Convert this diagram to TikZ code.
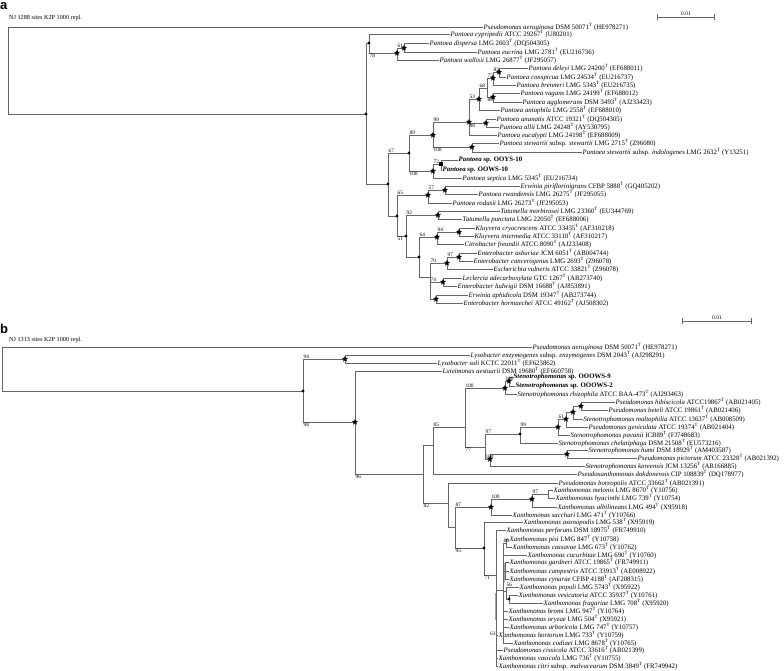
\documentclass[tikz,border=0pt]{standalone}
\usepackage{fontspec}
\setmainfont{Liberation Serif}
\newfontfamily\panelfont{Liberation Sans}
\usetikzlibrary{shapes.geometric}
\newcommand{\typ}{\textsuperscript{T}}

\begin{document}
\begin{tikzpicture}[x=1pt, y=-1pt,
    br/.style={draw=black!60, line width=0.7pt},
    ovl/.style={draw=black!35, line width=1.6pt},
    leaf/.style={anchor=west, inner xsep=0.5pt, inner ysep=0pt, font=\fontsize{6.8}{7}\selectfont},
    ours/.style={leaf, font=\fontsize{6.8}{7}\selectfont\bfseries},
    bsup/.style={pos=0.5, anchor=south west, inner sep=0.4pt, font=\fontsize{5.3}{5.3}\selectfont},
    bsdn/.style={pos=0.5, anchor=north west, inner sep=0.4pt, font=\fontsize{5.3}{5.3}\selectfont},
    dotn/.style={circle, fill=black, inner sep=0pt, minimum size=3.4pt},
    starn/.style={star, star points=5, star point ratio=2.3, fill=black, inner sep=0pt, minimum size=6.4pt},
    sqn/.style={rectangle, fill=black, inner sep=0pt, minimum size=4.2pt},
    panel/.style={anchor=base west, inner sep=0pt, font=\panelfont\bfseries\fontsize{13}{13}\selectfont},
    hdr/.style={anchor=west, inner sep=0pt, font=\fontsize{6.2}{7}\selectfont},
    scl/.style={above, inner sep=0.8pt, font=\fontsize{5.5}{6}\selectfont}
  ]
\useasboundingbox (0,0) rectangle (784,671);

% ---------------- panel a ----------------
\node[panel] (pa) at (0,9.5) {a};
\node[hdr] (ha) at (9,18) {NJ 1288 sites K2P 1000 repl.};
\coordinate (sa0) at (657,17);
\coordinate (sa1) at (715,17);
\draw[br, |-|] (sa0) -- node[scl] {0.01} (sa1);

\coordinate (ra) at (8,70);
\coordinate (a1) at (366,114);
\coordinate (a2) at (369,43);
\coordinate (a3) at (397,53);
\coordinate (a4) at (404,48);
\coordinate (a5) at (388,184);
\coordinate (a6) at (409,153);
\coordinate (a7) at (433,135);
\coordinate (a8) at (469,122);
\coordinate (a9) at (479,99);
\coordinate (a10) at (487,88);
\coordinate (a11) at (493,78);
\coordinate (a12) at (499,72);
\coordinate (a13) at (493,97);
\coordinate (a14) at (486,123);
\coordinate (a15) at (472,147);
\coordinate (a16) at (433,171);
\coordinate (a17) at (441,164);
\coordinate (a18) at (397,216);
\coordinate (a19) at (428,195);
\coordinate (a20) at (445,190);
\coordinate (a21) at (406,236);
\coordinate (a22) at (438,215);
\coordinate (a23) at (419,257);
\coordinate (a24) at (437,237);
\coordinate (a25) at (459,232);
\coordinate (a26) at (430,277);
\coordinate (a27) at (447,263);
\coordinate (a28) at (459,257);
\coordinate (a29) at (443,282);
\coordinate (a30) at (436,299);

\node[leaf] (paeA) at (483,27) {\textit{Pseudomonas aeruginosa} DSM 50071\typ{} (HE978271)};
\node[leaf] (cyp) at (450,34) {\textit{Pantoea cypripedii} ATCC 29267\typ{} (U80201)};
\node[leaf] (dis) at (429,43) {\textit{Pantoea dispersa} LMG 2603\typ{} (DQ504305)};
\node[leaf] (eucr) at (477,52) {\textit{Pantoea eucrina} LMG 2781\typ{} (EU216736)};
\node[leaf] (wal) at (439,60) {\textit{Pantoea wallisii} LMG 26877\typ{} (JF295057)};
\node[leaf] (del) at (528,68) {\textit{Pantoea deleyi} LMG 24200\typ{} (EF688011)};
\node[leaf] (con) at (506,77) {\textit{Pantoea conspicua} LMG 24534\typ{} (EU216737)};
\node[leaf] (bre) at (516,85) {\textit{Pantoea brenneri} LMG 5343\typ{} (EU216735)};
\node[leaf] (vag) at (520,93) {\textit{Pantoea vagans} LMG 24199\typ{} (EF688012)};
\node[leaf] (agg) at (522,102) {\textit{Pantoea agglomerans} DSM 3493\typ{} (AJ233423)};
\node[leaf] (ant) at (500,110) {\textit{Pantoea antophila} LMG 2558\typ{} (EF688010)};
\node[leaf] (anan) at (496,119) {\textit{Pantoea ananatis} ATCC 19321\typ{} (DQ504305)};
\node[leaf] (all) at (499,127) {\textit{Pantoea allii} LMG 24248\typ{} (AY530795)};
\node[leaf] (euca) at (497,135) {\textit{Pantoea eucalypti} LMG 24198\typ{} (EF688009)};
\node[leaf] (sst) at (499,143) {\textit{Pantoea stewartii} subsp. \textit{stewartii} LMG 2715\typ{} (Z96080)};
\node[leaf] (sin) at (582,152) {\textit{Pantoea stewartii} subsp. \textit{indologenes} LMG 2632\typ{} (Y13251)};
\node[ours] (ooy) at (458,160) {\textit{Pantoea} sp. OOYS-10};
\node[ours] (oow) at (442,170) {\textit{Pantoea} sp. OOWS-10};
\node[leaf] (sep) at (462,178) {\textit{Pantoea septica} LMG 5345\typ{} (EU216734)};
\node[leaf] (epi) at (520,186) {\textit{Erwinia piriflorinigrans} CFBP 5888\typ{} (GQ405202)};
\node[leaf] (rwa) at (478,194) {\textit{Pantoea rwandensis} LMG 26275\typ{} (JF295055)};
\node[leaf] (rod) at (452,203) {\textit{Pantoea rodasii} LMG 26273\typ{} (JF295053)};
\node[leaf] (tmo) at (500,211) {\textit{Tatumella morbirosei} LMG 23360\typ{} (EU344769)};
\node[leaf] (tpu) at (462,219) {\textit{Tatumella punctata} LMG 22050\typ{} (EF688006)};
\node[leaf] (kcr) at (475,228) {\textit{Kluyvera cryocrescens} ATCC 33435\typ{} (AF310218)};
\node[leaf] (kin) at (474,236) {\textit{Kluyvera intermedia} ATCC 33110\typ{} (AF310217)};
\node[leaf] (cfr) at (464,244) {\textit{Citrobacter freundii} ATCC 8090\typ{} (AJ233408)};
\node[leaf] (eas) at (477,253) {\textit{Enterobacter asburiae} JCM 6051\typ{} (AB004744)};
\node[leaf] (ecan) at (473,261) {\textit{Enterobacter cancerogenus} LMG 2693\typ{} (Z96078)};
\node[leaf] (evu) at (493,269) {\textit{Escherichia vulneris} ATCC 33821\typ{} (Z96078)};
\node[leaf] (lad) at (462,278) {\textit{Leclercia adecarboxylata} GTC 1267\typ{} (AB273740)};
\node[leaf] (elu) at (457,286) {\textit{Enterobacter ludwigii} DSM 16688\typ{} (AJ853891)};
\node[leaf] (eap) at (468,295) {\textit{Erwinia aphidicola} DSM 19347\typ{} (AB273744)};
\node[leaf] (eho) at (463,303) {\textit{Enterobacter hormaechei} ATCC 49162\typ{} (AJ508302)};

\foreach \p/\c in {ra/paeA, ra/a1, a1/a2, a1/a5, a2/cyp, a2/a3, a3/a4, a3/wal, a4/dis, a4/eucr,
    a5/a6, a5/a18, a6/a7, a6/a16, a7/a8, a7/a15, a8/a9, a8/a14, a8/euca, a9/a10, a9/ant,
    a10/a11, a10/a13, a11/a12, a11/bre, a12/del, a12/con, a13/vag, a13/agg, a14/anan, a14/all,
    a15/sst, a15/sin, a16/a17, a16/sep, a17/ooy, a17/oow, a18/a19, a18/a21, a19/a20, a19/rod,
    a20/epi, a20/rwa, a21/a22, a21/a23, a22/tmo, a22/tpu, a23/a24, a23/a26, a24/a25, a24/cfr,
    a25/kcr, a25/kin, a26/a27, a26/a29, a26/a30, a27/a28, a27/evu, a28/eas, a28/ecan,
    a29/lad, a29/elu, a30/eap, a30/eho}
  \draw[br] (\p) |- (\c);

\foreach \p/\c/\v in {a3/a4/61, a5/a6/67, a6/a7/89, a7/a8/99, a8/a9/53, a9/a10/68, a10/a11/75,
    a11/a12/83, a16/a17/72, a18/a19/65, a19/a20/57, a21/a22/92, a23/a24/64, a24/a25/94,
    a26/a27/70, a27/a28/97, a26/a29/74}
  \path (\p) |- node[bsup] {\v} (\c);
\foreach \p/\c/\v in {a2/a3/78, a6/a16/100, a7/a15/100, a8/a14/88, a10/a13/80, a18/a21/51}
  \path (\p) |- node[bsdn] {\v} (\c);

% ---------------- panel b ----------------
\node[panel] (pb) at (0,333) {b};
\node[hdr] (hb) at (9,340) {NJ 1313 sites K2P 1000 repl.};
\coordinate (sb0) at (682,321);
\coordinate (sb1) at (752,321);
\draw[br, |-|] (sb0) -- node[scl] {0.01} (sb1);

\coordinate (rb) at (2,368);
\coordinate (b1) at (303,391);
\coordinate (b2) at (345,359);
\coordinate (b3) at (355,422);
\coordinate (b4) at (423,474);
\coordinate (b5) at (433,445);
\coordinate (b6) at (448,503);
\coordinate (b7) at (465,427);
\coordinate (b8) at (485,447);
\coordinate (b9) at (520,434);
\coordinate (b10) at (455,527);
\coordinate (b11) at (484,548);
\coordinate (b12) at (496,575);
\coordinate (b13) at (503,590);
\coordinate (b14) at (506,543);
\coordinate (b15) at (505,571);
\coordinate (b16) at (506,591);
\coordinate (b17) at (509,599);
\coordinate (c1) at (505,388);
\coordinate (c2) at (509,381);
\coordinate (c3) at (558,427);
\coordinate (c4) at (566,419);
\coordinate (c5) at (573,412);
\coordinate (c6) at (581,406);
\coordinate (c7) at (490,459);
\coordinate (c8) at (567,454);
\coordinate (c9) at (491,507);
\coordinate (c10) at (532,499);
\coordinate (c11) at (548,494);
% overlapping short branches, drawn grey
\coordinate (g0) at (496,593);
\coordinate (g1) at (496,620);
\coordinate (g2) at (504.5,563);
\coordinate (g3) at (504.5,582);

\node[leaf] (paeB) at (532,347) {\textit{Pseudomonas aeruginosa} DSM 50071\typ{} (HE978271)};
\node[leaf] (len) at (470,355) {\textit{Lysobacter enzymogenes} subsp. \textit{enzymogenes} DSM 2043\typ{} (AJ298291)};
\node[leaf] (lso) at (437,363) {\textit{Lysobacter soli} KCTC 22011\typ{} (EF623862)};
\node[leaf] (lae) at (442,371) {\textit{Luteimonas aestuarii} DSM 19680\typ{} (EF660758)};
\node[ours] (oo9) at (513,377) {\textit{Stenotrophomonas} sp. OOOWS-9};
\node[ours] (oo2) at (515,386) {\textit{Stenotrophomonas} sp. OOOWS-2};
\node[leaf] (rhi) at (517,394) {\textit{Stenotrophomonas rhizophila} ATCC BAA-473\typ{} (AJ293463)};
\node[leaf] (hib) at (615,402) {\textit{Pseudomonas hibiscicola} ATCC19867\typ{} (AB021405)};
\node[leaf] (bet) at (608,410) {\textit{Pseudomonas beteli} ATCC 19861\typ{} (AB021406)};
\node[leaf] (mal) at (583,419) {\textit{Stenotrophomonas maltophilia} ATCC 13637\typ{} (AB008509)};
\node[leaf] (gen) at (588,427) {\textit{Pseudomonas geniculata} ATCC 19374\typ{} (AB021404)};
\node[leaf] (pav) at (570,435) {\textit{Stenotrophomonas pavanii} ICB89\typ{} (FJ748683)};
\node[leaf] (che) at (558,443) {\textit{Stenotrophomonas chelatiphaga} DSM 21508\typ{} (EU573216)};
\node[leaf] (hum) at (588,450) {\textit{Stenotrophomonas humi} DSM 18929\typ{} (AM403587)};
\node[leaf] (pic) at (637,458) {\textit{Pseudomonas pictorum} ATCC 23328\typ{} (AB021392)};
\node[leaf] (kor) at (585,466) {\textit{Stenotrophomonas koreensis} JCM 13256\typ{} (AB166885)};
\node[leaf] (pdo) at (577,474) {\textit{Pseudoxanthomonas dokdonensis} CIP 108839\typ{} (DQ178977)};
\node[leaf] (bor) at (558,483) {\textit{Pseudomonas boreopolis} ATCC 33662\typ{} (AB021391)};
\node[leaf] (mel) at (553,490) {\textit{Xanthomonas melonis} LMG 8670\typ{} (Y10756)};
\node[leaf] (hya) at (555,498) {\textit{Xanthomonas hyacinthi} LMG 739\typ{} (Y10754)};
\node[leaf] (alb) at (557,507) {\textit{Xanthomonas albilineans} LMG 494\typ{} (X95918)};
\node[leaf] (sac) at (512,515) {\textit{Xanthomonas sacchari} LMG 471\typ{} (Y10766)};
\node[leaf] (axo) at (523,522) {\textit{Xanthomonas axonopodis} LMG 538\typ{} (X95919)};
\node[leaf] (per) at (506,530) {\textit{Xanthomonas perforans} DSM 18975\typ{} (FR749910)};
\node[leaf] (pis) at (509,539) {\textit{Xanthomonas pisi} LMG 847\typ{} (Y10758)};
\node[leaf] (cas) at (512,547) {\textit{Xanthomonas cassavae} LMG 673\typ{} (Y10762)};
\node[leaf] (cuc) at (527,555) {\textit{Xanthomonas cucurbitae} LMG 690\typ{} (Y10760)};
\node[leaf] (gar) at (509,562) {\textit{Xanthomonas gardneri} ATCC 19865\typ{} (FR749911)};
\node[leaf] (cam) at (509,571) {\textit{Xanthomonas campestris} ATCC 33913\typ{} (AE008922)};
\node[leaf] (cyn) at (509,579) {\textit{Xanthomonas cynarae} CFBP 4188\typ{} (AF208315)};
\node[leaf] (pop) at (519,587) {\textit{Xanthomonas populi} LMG 5743\typ{} (X95922)};
\node[leaf] (ves) at (518,595) {\textit{Xanthomonas vesicatoria} ATCC 35937\typ{} (Y10761)};
\node[leaf] (fra) at (543,603) {\textit{Xanthomonas fragariae} LMG 708\typ{} (X95920)};
\node[leaf] (bro) at (508,611) {\textit{Xanthomonas bromi} LMG 947\typ{} (Y10764)};
\node[leaf] (ory) at (508,619) {\textit{Xanthomonas oryzae} LMG 504\typ{} (X95921)};
\node[leaf] (arb) at (509,627) {\textit{Xanthomonas arboricola} LMG 747\typ{} (Y10757)};
\node[leaf] (hor) at (498,635) {\textit{Xanthomonas hortorum} LMG 733\typ{} (Y10759)};
\node[leaf] (cod) at (513,643) {\textit{Xanthomonas codiaei} LMG 8678\typ{} (Y10765)};
\node[leaf] (cis) at (503,650) {\textit{Pseudomonas cissicola} ATCC 33616\typ{} (AB021399)};
\node[leaf] (vas) at (498,658) {\textit{Xanthomonas vasicola} LMG 736\typ{} (Y10755)};
\node[leaf] (cit) at (498,666) {\textit{Xanthomonas citri} subsp. \textit{malvacearum} DSM 3849\typ{} (FR749942)};

\draw[ovl] (g0) -- (g1);
\draw[ovl] (g2) -- (g3);

\foreach \p/\c in {rb/paeB, rb/b1, b1/b2, b1/b3, b2/len, b2/lso, b3/lae, b3/b4, b4/b5, b4/b6,
    b5/b7, b5/pdo, b7/c1, b7/b8, c1/c2, c1/rhi, c2/oo9, c2/oo2, b8/b9, b8/c7, b9/c3, b9/che,
    c3/c4, c3/pav, c4/c5, c4/gen, c5/c6, c5/mal, c6/hib, c6/bet, c7/c8, c7/kor, c8/hum, c8/pic,
    b6/bor, b6/b10, b10/c9, b10/b11, c9/c10, c9/sac, c10/c11, c10/alb, c11/mel, c11/hya,
    b11/axo, b11/b12, b12/per, b12/b13, b12/hor, b12/cis, b12/vas, b12/cit,
    b13/b14, b13/cuc, b13/b15, b13/b16, b13/bro, b13/ory, b13/arb, b13/cod,
    b14/pis, b14/cas, b15/gar, b15/cam, b15/cyn, b16/pop, b16/b17, b17/ves, b17/fra}
  \draw[br] (\p) |- (\c);

\foreach \p/\c/\v in {b1/b2/94, b5/b7/85, b7/c1/100, c1/c2/100, b8/b9/97, b9/c3/99, c3/c4/61,
    b8/c7/100, b10/c9/87, c9/c10/100, c10/c11/97, b13/b14/86, b16/pop/56}
  \path (\p) |- node[bsup] {\v} (\c);
\foreach \p/\c/\v in {b1/b3/98, b3/b4/96, b4/b6/82, b7/b8/77, b10/b11/95, b11/b12/71}
  \path (\p) |- node[bsdn] {\v} (\c);
\node[anchor=east, inner sep=0.4pt, font=\fontsize{5.3}{5.3}\selectfont] (bs63) at (496,634) {63};

% markers
\foreach \n in {a1, a2, a5, a6, a18, a21, a23, b1, b9, b11, b17}
  \node[dotn] at (\n) {};
\foreach \n in {a3, a4, a7, a8, a9, a11, a12, a13, a14, a15, a16, a19, a20, a22, a24, a25,
    a27, a28, a29, a30, b2, b3, c1, c2, c3, c4, c5, c6, c7, c8, c9, c10}
  \node[starn] at (\n) {};
\node[sqn] (sq) at (a17) {};

\end{tikzpicture}
\end{document}
